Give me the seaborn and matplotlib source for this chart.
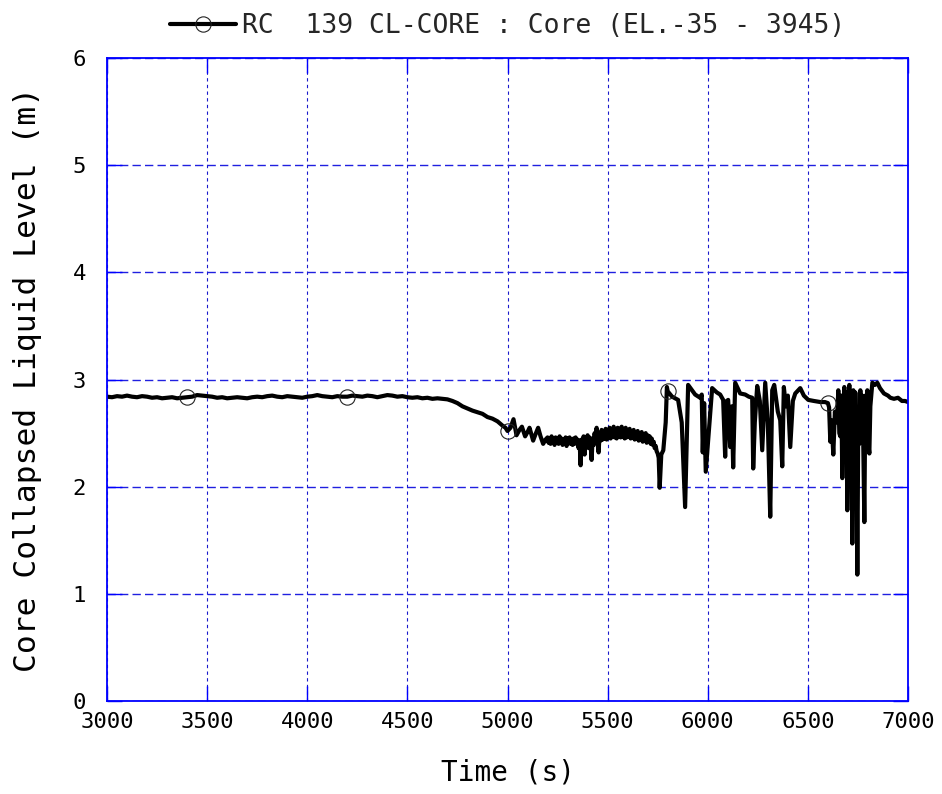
import matplotlib
matplotlib.use("Agg")
import matplotlib.pyplot as plt
from matplotlib.lines import Line2D
import seaborn as sns
import pandas as pd

# Core collapsed liquid level, RC 139 (CL-CORE), 3000-7000 s
time_s = [
    3000, 3025, 3050, 3075, 3100, 3125, 3150, 3175, 3200, 3225, 3250, 3275,
    3300, 3325, 3350, 3375, 3400, 3425, 3450, 3475, 3500, 3525, 3550, 3575,
    3600, 3625, 3650, 3675, 3700, 3725, 3750, 3775, 3800, 3825, 3850, 3875,
    3900, 3925, 3950, 3975, 4000, 4025, 4050, 4075, 4100, 4125, 4150, 4175,
    4200, 4225, 4250, 4275, 4300, 4325, 4350, 4375, 4400, 4425, 4450, 4475,
    4500, 4525, 4550, 4575, 4600, 4625, 4650, 4675, 4700,
    4725, 4750, 4775, 4800, 4825, 4850, 4875, 4900, 4925, 4950, 4975, 4990,
    5000, 5015, 5030, 5045, 5060, 5072, 5088, 5100, 5110, 5128, 5140, 5153,
    5165, 5178, 5190,
    5200, 5205, 5210, 5215, 5220, 5225, 5230, 5235, 5240, 5245, 5250, 5255,
    5260, 5265, 5270, 5275, 5280, 5285, 5290, 5295, 5300, 5305, 5310, 5315,
    5320, 5325, 5330, 5335, 5340, 5345, 5350, 5355, 5360, 5365, 5370, 5375,
    5380, 5385, 5390, 5395, 5400, 5405, 5410, 5415, 5420, 5425, 5430, 5435,
    5440, 5445, 5450, 5455, 5460, 5465, 5470, 5475, 5480, 5485, 5490, 5495,
    5500, 5505, 5510, 5515, 5520, 5525, 5530, 5535, 5540, 5545, 5550, 5555,
    5560, 5565, 5570, 5575, 5580, 5585, 5590, 5595, 5600, 5605, 5610, 5615,
    5620, 5625, 5630, 5635, 5640, 5645, 5650, 5655, 5660, 5665, 5670, 5675,
    5680, 5685, 5690, 5695, 5700, 5705, 5710, 5715, 5720, 5725, 5730, 5735,
    5740, 5745, 5750, 5755,
    5760, 5768, 5778, 5790, 5796, 5800,
    5822, 5852, 5870, 5887, 5902, 5937, 5962, 5970, 5975, 5982, 5990, 6022,
    6045, 6062, 6077, 6087, 6095, 6102, 6112, 6120, 6127, 6137, 6162, 6187,
    6205, 6222, 6227, 6235, 6247, 6260, 6272, 6287, 6300, 6312, 6322, 6332,
    6350, 6362, 6372, 6380, 6390, 6400, 6412, 6425, 6437, 6462, 6480, 6502,
    6530, 6562, 6585, 6600,
    6606, 6612, 6618, 6627, 6635, 6645, 6652, 6657, 6662, 6667, 6672, 6677,
    6682, 6688, 6692, 6697, 6702, 6707, 6712, 6717, 6722, 6727, 6732, 6737,
    6742, 6747, 6752, 6757, 6762, 6767, 6772, 6777, 6782, 6787, 6792, 6797,
    6802, 6807, 6812, 6822, 6835, 6847, 6860, 6880, 6900, 6912, 6930, 6950,
    6970, 6985, 7000,
]

level_m = [
    2.840, 2.835, 2.845, 2.840, 2.850, 2.840, 2.835, 2.845, 2.840, 2.830, 2.835, 2.825,
    2.830, 2.835, 2.825, 2.830, 2.835, 2.840, 2.855, 2.850, 2.845, 2.840, 2.830, 2.835,
    2.825, 2.830, 2.835, 2.830, 2.825, 2.835, 2.840, 2.835, 2.845, 2.850, 2.840, 2.835,
    2.845, 2.840, 2.835, 2.830, 2.840, 2.845, 2.855, 2.845, 2.840, 2.835, 2.845, 2.840,
    2.840, 2.850, 2.845, 2.840, 2.850, 2.845, 2.835, 2.845, 2.855, 2.850, 2.840, 2.845,
    2.835, 2.830, 2.835, 2.825, 2.830, 2.820, 2.825, 2.820, 2.815,
    2.800, 2.780, 2.750, 2.730, 2.710, 2.695, 2.680, 2.650, 2.635, 2.610, 2.570, 2.550,
    2.520, 2.550, 2.630, 2.480, 2.530, 2.560, 2.470, 2.510, 2.550, 2.430, 2.490, 2.550,
    2.470, 2.400, 2.440,
    2.46, 2.41, 2.45, 2.40, 2.47, 2.42, 2.44, 2.39, 2.46, 2.41, 2.45, 2.40,
    2.47, 2.42, 2.45, 2.39, 2.44, 2.41, 2.46, 2.38, 2.45, 2.41, 2.46, 2.40,
    2.44, 2.39, 2.45, 2.40, 2.46, 2.41, 2.44, 2.36, 2.43, 2.20, 2.44, 2.35,
    2.47, 2.30, 2.45, 2.38, 2.48, 2.36, 2.46, 2.40, 2.25, 2.45, 2.39, 2.50,
    2.42, 2.55, 2.40, 2.32, 2.50, 2.43, 2.53, 2.44, 2.52, 2.45, 2.54, 2.44,
    2.53, 2.46, 2.55, 2.45, 2.52, 2.47, 2.56, 2.46, 2.53, 2.45, 2.55, 2.47,
    2.54, 2.46, 2.56, 2.47, 2.53, 2.45, 2.55, 2.46, 2.53, 2.47, 2.54, 2.45,
    2.52, 2.46, 2.53, 2.44, 2.51, 2.45, 2.52, 2.43, 2.50, 2.44, 2.51, 2.42,
    2.49, 2.43, 2.50, 2.41, 2.48, 2.42, 2.47, 2.40, 2.45, 2.39, 2.42, 2.36,
    2.38, 2.33, 2.31, 2.27,
    1.990, 2.300, 2.340, 2.600, 2.930, 2.890,
    2.840, 2.810, 2.600, 1.810, 2.950, 2.860, 2.830, 2.860, 2.320, 2.780, 2.140, 2.920,
    2.880, 2.860, 2.810, 2.280, 2.800, 2.810, 2.370, 2.750, 2.180, 2.970, 2.870, 2.860,
    2.840, 2.830, 2.170, 2.600, 2.940, 2.800, 2.340, 2.970, 2.600, 1.720, 2.900, 2.950,
    2.700, 2.620, 2.190, 2.930, 2.750, 2.850, 2.370, 2.800, 2.870, 2.920, 2.850, 2.810,
    2.800, 2.790, 2.790, 2.780,
    2.740, 2.420, 2.620, 2.300, 2.700, 2.600, 2.900, 2.500, 2.470, 2.850, 2.080, 2.700,
    2.930, 2.400, 2.880, 1.780, 2.600, 2.950, 2.300, 2.880, 1.470, 2.900, 2.450, 2.880,
    2.600, 1.180, 2.700, 2.400, 2.900, 2.500, 2.850, 2.350, 1.670, 2.850, 2.550, 2.900,
    2.400, 2.310, 2.750, 2.970, 2.950, 2.970, 2.920, 2.870, 2.850, 2.830, 2.820, 2.830,
    2.800, 2.800, 2.790,
]

marker_times = [3400, 4200, 5000, 5800, 6600]
x_ticks = [3000, 3500, 4000, 4500, 5000, 5500, 6000, 6500, 7000]
y_ticks = [0, 1, 2, 3, 4, 5, 6]
series_label = "RC  139 CL-CORE : Core (EL.-35 - 3945)"
x_title = "Time (s)"
y_title = "Core Collapsed Liquid Level (m)"

df = pd.DataFrame({"time": time_s, "level": level_m})
marker_idx = [time_s.index(t) for t in marker_times]

sns.set_theme(style="white")
plt.rcParams["font.family"] = ["DejaVu Sans Mono", "DejaVu Sans"]

frame_blue = "#0000ff"
line_w = 3.0
fig = plt.figure(figsize=(9.42, 7.94), dpi=100)
ax = fig.add_axes([0.1136, 0.117, 0.8503, 0.810])

sns.lineplot(
    data=df, x="time", y="level", ax=ax, estimator=None, sort=False,
    color="black", linewidth=line_w, marker="o", markevery=marker_idx,
    markersize=11, markerfacecolor="none", markeredgecolor="#222222",
    markeredgewidth=0.8, legend=False,
)

ax.set_xlim(3000, 7000)
ax.set_ylim(0, 6)
ax.set_xticks(x_ticks)
ax.set_yticks(y_ticks)
ax.set_xticklabels([str(v) for v in x_ticks])
ax.set_yticklabels([str(v) for v in y_ticks])

ax.xaxis.grid(True, color="#1a1acc", linestyle=(0, (3, 3)), linewidth=0.8)
ax.yaxis.grid(True, color="#2020e0", linestyle=(0, (6, 3)), linewidth=1.0)
ax.set_axisbelow(True)

for sp in ax.spines.values():
    sp.set_color(frame_blue)
    sp.set_linewidth(1.3)
    sp.set_visible(True)

ax.tick_params(axis="both", direction="in", length=11, width=1.0,
               color=frame_blue, top=True, right=True, bottom=True, left=True,
               labelsize=16, labelcolor="black")
ax.tick_params(axis="x", pad=8)
ax.tick_params(axis="y", pad=15)

ax.set_xlabel(x_title, fontsize=20, color="black", labelpad=19)
ax.set_ylabel(y_title, fontsize=22.5, color="black", labelpad=22)

handle = Line2D([], [], color="black", linewidth=line_w, marker="o",
                markersize=11, markerfacecolor="none",
                markeredgecolor="#222222", markeredgewidth=0.8)
ax.legend([handle], [series_label], loc="lower center",
          bbox_to_anchor=(0.5, 1.0), frameon=False, fontsize=19,
          handlelength=2.5, handletextpad=0.2, borderaxespad=0.3)

fig.savefig("out.png", dpi=100, facecolor="white")
